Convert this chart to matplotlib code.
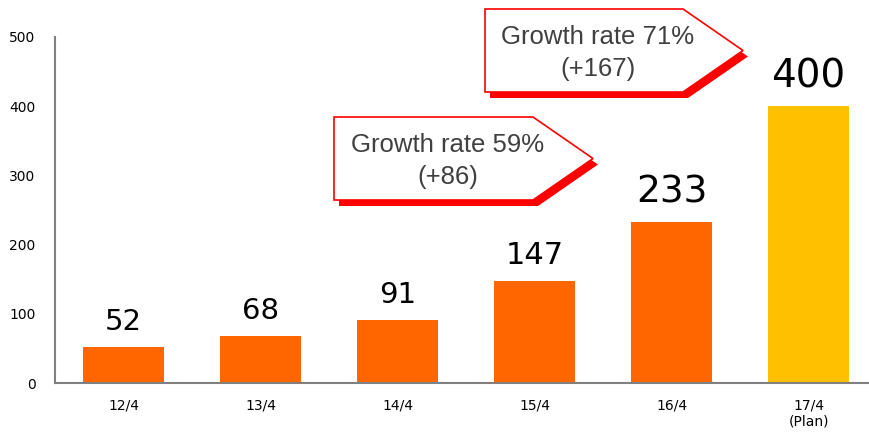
import matplotlib
matplotlib.use("Agg")
import matplotlib.pyplot as plt
from matplotlib.patches import Polygon

# data
periods = ["12/4", "13/4", "14/4", "15/4", "16/4", "17/4\n(Plan)"]
values = [52, 68, 91, 147, 233, 400]
callout_texts = ["Growth rate 59%\n(+86)", "Growth rate 71%\n(+167)"]

bar_colors = ["#FF6600"] * 5 + ["#FFC000"]
label_sizes = [21, 21, 21, 22, 27, 28]

W, H = 869, 436
fig = plt.figure(figsize=(W / 100, H / 100), dpi=100)
ax = fig.add_axes([55 / W, (H - 383) / H, 822 / W, 346 / H])

x = range(len(values))
ax.bar(x, values, width=0.59, color=bar_colors, zorder=2)
ax.set_xlim(-0.5, 5.5)
ax.set_ylim(0, 500)
ax.set_yticks([0, 100, 200, 300, 400, 500])
ax.set_xticks(list(x))
ax.set_xticklabels(periods, fontsize=10, linespacing=1.2, va="top")
ax.tick_params(axis="y", length=0, pad=14, labelsize=10)
ax.tick_params(axis="x", length=0, pad=11)
for s in ["top", "right"]:
    ax.spines[s].set_visible(False)
for s in ["left", "bottom"]:
    ax.spines[s].set_color("#808080")
    ax.spines[s].set_linewidth(1.5)

for i, v in enumerate(values):
    ax.annotate(str(v), (i, v), xytext=(0, 8), textcoords="offset points",
                ha="center", va="bottom", fontsize=label_sizes[i], color="black")


def px(xp, yp):
    return (xp / W, (H - yp) / H)


def callout(left, top, right, tip, bottom, text, tx, ty):
    mid = (top + bottom) / 2
    pts = [(left, top), (right, top), (tip, mid), (right, bottom), (left, bottom)]
    shadow = Polygon([px(a + 5, b + 6) for a, b in pts], closed=True,
                     transform=fig.transFigure, facecolor="#FF0000",
                     edgecolor="none", zorder=5)
    box = Polygon([px(a, b) for a, b in pts], closed=True,
                  transform=fig.transFigure, facecolor="white",
                  edgecolor="#FF0000", linewidth=1.2, zorder=6)
    fig.add_artist(shadow)
    fig.add_artist(box)
    fig.text(*px(tx, ty), text, ha="center", va="center", fontsize=18.5,
             family="Liberation Sans", color="#404040", linespacing=1.45,
             zorder=7)


callout(334, 117, 533, 593, 200, callout_texts[0], 448, 161)
callout(485, 9, 683, 743, 92, callout_texts[1], 598, 53)

fig.savefig("out.png", dpi=100)
